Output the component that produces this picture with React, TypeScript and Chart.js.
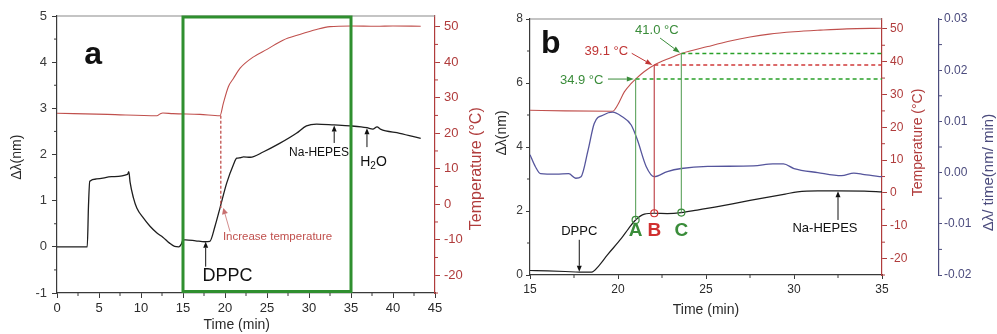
import React, { useEffect, useRef } from "react";
import { Chart, registerables } from "chart.js";
Chart.register(...registerables);

const FONT = '"Liberation Sans", Arial, Helvetica, sans-serif';
const DARK = "#2a2a2a";
const AXIS_DARK = "#3a3a3a";
const FRAME = "#8a8a8a";
const RED_LINE = "#c0504d";
const RED_AXIS = "#b03c3c";
const GREEN_BOX = "#2f8f2f";
const GREEN_TXT = "#3a8c3a";
const GREEN_LINE = "#6aaa6a";
const BLUE_LINE = "#55559c";
const BLUE_AXIS = "#4b4b7d";

// ---------------- Panel a data ----------------
const aTime = [0, 3.6, 3.75, 3.9, 4.7, 6.5, 8.4, 8.55, 8.7, 9.1, 9.5, 10.3, 11.1, 11.9, 12.6, 13.4, 14.0, 14.5, 14.8, 15.0, 15.3, 16.5, 17.6, 18.2, 18.8, 19.4, 20.2, 21.0, 21.4, 21.8, 22.2, 23.0, 24.6, 26.5, 28.5, 29.7, 30.9, 33.0, 34.9, 36.2, 36.9, 37.6, 38.1, 38.5, 40.8, 43.3];
const aShift = [0, 0, 0.9, 1.42, 1.47, 1.52, 1.57, 1.63, 1.4, 1.06, 0.84, 0.62, 0.44, 0.3, 0.21, 0.08, 0.01, 0, 0.06, 0.15, 0.15, 0.13, 0.11, 0.12, 0.44, 0.84, 1.38, 1.78, 1.92, 1.93, 1.95, 1.94, 2.06, 2.24, 2.46, 2.62, 2.66, 2.64, 2.62, 2.6, 2.58, 2.55, 2.6, 2.55, 2.46, 2.35];
const aTempTime = [0, 6, 11.9, 12.3, 12.6, 13.8, 17, 19.4, 19.8, 20.4, 21.0, 21.8, 23.4, 25.0, 26.9, 28.9, 30.9, 32.5, 35, 38, 40, 43.3];
const aTemp = [25.6, 25.3, 24.9, 25.5, 25.7, 25.5, 25.3, 24.9, 28.4, 33.1, 35.4, 38.3, 41.5, 43.6, 46.2, 47.8, 49.2, 50.0, 50.2, 50.1, 50.2, 50.1];
const aXTicks = [0, 5, 10, 15, 20, 25, 30, 35, 40, 45];
const aYTicks = [-1, 0, 1, 2, 3, 4, 5];
const aTempTicks = [-20, -10, 0, 10, 20, 30, 40, 50];
const aBox = [15, 35];
const aHeatTime = 19.5;
const aHeatTemp = 24.9;
const aHeatShift = 0.84;

// ---------------- Panel b data ----------------
const bTime = [15, 16, 17, 17.8, 18.5, 18.9, 19.4, 20.2, 20.6, 21.0, 21.5, 22.06, 22.8, 23.6, 24.5, 25.5, 26.5, 27.5, 28.7, 29.5, 30.2, 31.35, 32.5, 34, 35];
const bShift = [0.14, 0.13, 0.11, 0.09, 0.09, 0.28, 0.63, 1.15, 1.45, 1.72, 1.9, 1.93, 1.92, 1.95, 2.03, 2.12, 2.22, 2.33, 2.45, 2.53, 2.6, 2.63, 2.63, 2.62, 2.6];
const bTempTime = [15, 17, 19.7, 19.98, 20.36, 20.74, 21.0, 21.5, 22.06, 23.0, 23.6, 25.1, 26.3, 27.5, 28.6, 30, 31.5, 33, 35];
const bTemp = [25.2, 25.0, 24.9, 26.8, 30.8, 33.3, 34.7, 37.0, 39.0, 41.2, 42.5, 44.6, 46.2, 47.5, 48.4, 49.1, 49.6, 50.0, 50.2];
const bRateTime = [15, 15.3, 15.6, 16.5, 17.2, 17.6, 17.9, 18.3, 18.65, 19.2, 19.7, 20.2, 20.75, 21.1, 21.6, 22.06, 22.8, 23.6, 25.1, 27.7, 28.8, 29.4, 30.0, 31.35, 32.7, 33.4, 34, 35];
const bRate = [0.0035, 0.0012, -0.0002, -0.0003, -0.0002, -0.0011, -0.0008, 0.0044, 0.0096, 0.0113, 0.0118, 0.011, 0.0093, 0.0064, 0.0012, -0.0008, 0.0002, 0.0008, 0.0012, 0.0013, 0.0017, 0.0017, 0.0008, 0.0, -0.0006, -0.0001, -0.0004, -0.0008];
const bXTicks = [15, 20, 25, 30, 35];
const bYTicks = [0, 2, 4, 6, 8];
const bTempTicks = [-20, -10, 0, 10, 20, 30, 40, 50];
const bRateTicks = [-0.02, -0.01, 0, 0.01, 0.02, 0.03];
const bRateLabels = ["-0.02", "-0.01", "0.00", "0.01", "0.02", "0.03"];
const bPointTime = [21.0, 22.06, 23.6];
const bPointTemp = [34.7, 39.0, 42.5];
const bPointShift = [1.72, 1.93, 1.95];
const bPointLetters = ["A", "B", "C"];
const bTempLabels = ["34.9 °C", "39.1 °C", "41.0 °C"];

const zip = (xs: number[], ys: number[]) => xs.map((x, i) => ({ x, y: ys[i] }));
const steps = (a: number, b: number, s: number) => {
  const out: number[] = [];
  for (let v = a; v <= b + 1e-9; v += s) out.push(+v.toFixed(6));
  return out;
};

function line(ctx: any, x1: number, y1: number, x2: number, y2: number, color: string, lw = 1, dash: number[] = []) {
  ctx.save();
  ctx.strokeStyle = color;
  ctx.lineWidth = lw;
  ctx.setLineDash(dash);
  ctx.beginPath();
  ctx.moveTo(x1, y1);
  ctx.lineTo(x2, y2);
  ctx.stroke();
  ctx.restore();
}
function arrow(ctx: any, x1: number, y1: number, x2: number, y2: number, color: string, lw = 1, head = 7, hw = 3) {
  const ang = Math.atan2(y2 - y1, x2 - x1);
  const bx = x2 - head * Math.cos(ang);
  const by = y2 - head * Math.sin(ang);
  line(ctx, x1, y1, bx, by, color, lw);
  ctx.save();
  ctx.fillStyle = color;
  ctx.beginPath();
  ctx.moveTo(x2, y2);
  ctx.lineTo(bx + hw * Math.sin(ang), by - hw * Math.cos(ang));
  ctx.lineTo(bx - hw * Math.sin(ang), by + hw * Math.cos(ang));
  ctx.closePath();
  ctx.fill();
  ctx.restore();
}
function text(ctx: any, s: string, x: number, y: number, font: string, color: string, align = "center", baseline = "middle", rot = 0) {
  ctx.save();
  ctx.translate(x, y);
  if (rot) ctx.rotate(rot);
  ctx.font = font;
  ctx.fillStyle = color;
  ctx.textAlign = align;
  ctx.textBaseline = baseline;
  ctx.fillText(s, 0, 0);
  ctx.restore();
}
function minor(ctx: any, scale: any, values: number[], side: string, edge: number, len: number, color: string) {
  for (const v of values) {
    const p = scale.getPixelForValue(v);
    if (side === "bottom") line(ctx, p, edge, p, edge + len, color, 1);
    else if (side === "left") line(ctx, edge, p, edge - len, p, color, 1);
    else line(ctx, edge, p, edge + len, p, color, 1);
  }
}

function yAxis(pos: string, min: number, max: number, ticks: number[], labels: string[] | null, color: string, width: number, tickLen: number, pad: number, size: number, weight = 0) {
  return {
    type: "linear",
    position: pos,
    min,
    max,
    weight,
    afterBuildTicks: (s: any) => { s.ticks = ticks.map((v) => ({ value: v })); },
    afterFit: (s: any) => { s.width = width; },
    ticks: {
      color,
      font: { family: FONT, size },
      padding: pad,
      autoSkip: false,
      callback: (v: any, i: number) => (labels ? labels[i] : String(v)),
    },
    grid: { drawOnChartArea: false, drawTicks: true, tickLength: tickLen, color, tickColor: color, lineWidth: 1 },
    border: { display: true, color, width: 1.2 },
    title: { display: false },
  };
}
function xAxis(min: number, max: number, ticks: number[], height: number, tickLen: number, size: number) {
  return {
    type: "linear",
    position: "bottom",
    min,
    max,
    afterBuildTicks: (s: any) => { s.ticks = ticks.map((v) => ({ value: v })); },
    afterFit: (s: any) => { s.height = height; },
    ticks: { color: DARK, font: { family: FONT, size }, padding: 3, autoSkip: false, maxRotation: 0 },
    grid: { drawOnChartArea: false, drawTicks: true, tickLength: tickLen, color: AXIS_DARK, lineWidth: 1 },
    border: { display: true, color: AXIS_DARK, width: 1.2 },
    title: { display: false },
  };
}

const plugA = {
  id: "plugA",
  afterDraw(chart: any) {
    const { ctx, chartArea: ca } = chart;
    const x = chart.scales.x, y = chart.scales.y, yT = chart.scales.yT;
    line(ctx, ca.left, ca.top, ca.right, ca.top, FRAME, 1.2);
    minor(ctx, x, steps(2.5, 42.5, 5), "bottom", ca.bottom, 3, AXIS_DARK);
    minor(ctx, y, steps(-0.5, 4.5, 1), "left", ca.left, 3, AXIS_DARK);
    minor(ctx, yT, steps(-25, 45, 10), "right", ca.right, 3, RED_AXIS);
    // green box
    const gx1 = x.getPixelForValue(aBox[0]);
    const gx2 = x.getPixelForValue(aBox[1]);
    const gy1 = y.getPixelForValue(aYTicks[aYTicks.length - 1]) + 1;
    const gy2 = y.getPixelForValue(aYTicks[0]) - 1.5;
    ctx.save();
    ctx.strokeStyle = GREEN_BOX;
    ctx.lineWidth = 3;
    ctx.strokeRect(gx1, gy1, gx2 - gx1, gy2 - gy1);
    ctx.restore();
    // heating dashed line
    const hx = x.getPixelForValue(aHeatTime);
    line(ctx, hx, yT.getPixelForValue(aHeatTemp), hx, y.getPixelForValue(aHeatShift), RED_LINE, 1.3, [3, 2]);
    arrow(ctx, x.getPixelForValue(20.6), y.getPixelForValue(0.33), x.getPixelForValue(19.8), y.getPixelForValue(0.84), "#c87070", 0.8, 6, 3);
    text(ctx, "Increase temperature", x.getPixelForValue(19.75), y.getPixelForValue(0.22), `11.5px ${FONT}`, RED_LINE, "left");
    // DPPC
    arrow(ctx, x.getPixelForValue(17.7), y.getPixelForValue(-0.43), x.getPixelForValue(17.7), y.getPixelForValue(0.11), "#111", 1, 6, 2.5);
    text(ctx, "DPPC", x.getPixelForValue(20.3), y.getPixelForValue(-0.64), `18px ${FONT}`, "#111");
    // Na-HEPES
    arrow(ctx, x.getPixelForValue(33.0), y.getPixelForValue(2.25), x.getPixelForValue(33.0), y.getPixelForValue(2.63), "#111", 1, 6, 2.5);
    text(ctx, "Na-HEPES", x.getPixelForValue(31.2), y.getPixelForValue(2.03), `12px ${FONT}`, "#111");
    // H2O
    arrow(ctx, x.getPixelForValue(36.9), y.getPixelForValue(2.16), x.getPixelForValue(36.9), y.getPixelForValue(2.57), "#111", 1, 6, 2.5);
    const hx0 = x.getPixelForValue(36.1), hy0 = y.getPixelForValue(1.84);
    ctx.save();
    ctx.font = `14px ${FONT}`;
    const wH = ctx.measureText("H").width;
    ctx.font = `10px ${FONT}`;
    const w2 = ctx.measureText("2").width;
    ctx.restore();
    text(ctx, "H", hx0, hy0, `14px ${FONT}`, "#111", "left");
    text(ctx, "2", hx0 + wH, hy0 + 4, `10px ${FONT}`, "#111", "left");
    text(ctx, "O", hx0 + wH + w2, hy0, `14px ${FONT}`, "#111", "left");
    // panel letter
    text(ctx, "a", x.getPixelForValue(4.3), y.getPixelForValue(3.97), `bold 32px ${FONT}`, "#111", "center", "alphabetic");
    // axis titles
    text(ctx, "Time (min)", x.getPixelForValue(21.4), 325, `14px ${FONT}`, DARK);
    text(ctx, "Δλ(nm)", 16.7, y.getPixelForValue(1.94), `14px ${FONT}`, DARK, "center", "middle", -Math.PI / 2);
    text(ctx, "Temperature (°C)", 477, yT.getPixelForValue(10), `16px ${FONT}`, RED_AXIS, "center", "middle", -Math.PI / 2);
  },
};

const plugB = {
  id: "plugB",
  afterDraw(chart: any) {
    const { ctx, chartArea: ca } = chart;
    const x = chart.scales.x, y = chart.scales.y, yT = chart.scales.yT, yR = chart.scales.yR;
    line(ctx, ca.left, ca.top, ca.right, ca.top, FRAME, 1.2);
    minor(ctx, x, steps(17.5, 32.5, 5), "bottom", ca.bottom, 3, AXIS_DARK);
    minor(ctx, y, steps(1, 7, 2), "left", ca.left, 3, AXIS_DARK);
    minor(ctx, yT, steps(-25, 45, 10), "right", ca.right, 3, RED_AXIS);
    minor(ctx, yR, steps(-0.015, 0.025, 0.01), "right", yR.left, 3, BLUE_AXIS);
    const right = x.getPixelForValue(bXTicks[bXTicks.length - 1]);
    const colors = [GREEN_LINE, "#c04a50", GREEN_LINE];
    const dashColors = ["#28a028", "#d03a3a", "#28a028"];
    const txtColors = [GREEN_TXT, "#d03030", GREEN_TXT];
    for (let i = 0; i < 3; i++) {
      const px = x.getPixelForValue(bPointTime[i]);
      const pyT = yT.getPixelForValue(bPointTemp[i]);
      const pyS = y.getPixelForValue(bPointShift[i]);
      line(ctx, px, pyT, right, pyT, dashColors[i], 1.4, [4, 3]);
      line(ctx, px, pyT, px, pyS, colors[i], 1.2);
      ctx.save();
      ctx.strokeStyle = txtColors[i];
      ctx.lineWidth = 1.2;
      ctx.beginPath();
      ctx.arc(px, pyS, 3.5, 0, Math.PI * 2);
      ctx.stroke();
      ctx.restore();
      text(ctx, bPointLetters[i], px, y.getPixelForValue(1.37), `bold 19px ${FONT}`, txtColors[i]);
    }
    // temperature labels
    text(ctx, bTempLabels[0], x.getPixelForValue(16.7), yT.getPixelForValue(34.4), `13px ${FONT}`, GREEN_TXT, "left");
    arrow(ctx, x.getPixelForValue(19.43), yT.getPixelForValue(34.7), x.getPixelForValue(20.9), yT.getPixelForValue(34.7), GREEN_TXT, 1, 7, 2.5);
    text(ctx, bTempLabels[1], x.getPixelForValue(18.1), yT.getPixelForValue(43.0), `13px ${FONT}`, "#c03535", "left");
    arrow(ctx, x.getPixelForValue(20.78), yT.getPixelForValue(42.55), x.getPixelForValue(21.95), yT.getPixelForValue(39.0), "#c03535", 1, 7, 2.5);
    text(ctx, bTempLabels[2], x.getPixelForValue(20.97), yT.getPixelForValue(49.65), `13px ${FONT}`, GREEN_TXT, "left");
    arrow(ctx, x.getPixelForValue(22.39), yT.getPixelForValue(47.2), x.getPixelForValue(23.52), yT.getPixelForValue(42.7), GREEN_TXT, 1, 7, 2.5);
    // DPPC
    arrow(ctx, x.getPixelForValue(17.8), y.getPixelForValue(1.1), x.getPixelForValue(17.8), y.getPixelForValue(0.1), "#111", 1, 6, 2.5);
    text(ctx, "DPPC", x.getPixelForValue(17.8), y.getPixelForValue(1.35), `13px ${FONT}`, "#111");
    // Na-HEPES
    arrow(ctx, x.getPixelForValue(32.5), y.getPixelForValue(1.72), x.getPixelForValue(32.5), y.getPixelForValue(2.62), "#111", 1, 6, 2.5);
    text(ctx, "Na-HEPES", x.getPixelForValue(31.76), y.getPixelForValue(1.44), `13px ${FONT}`, "#111");
    // letter
    text(ctx, "b", x.getPixelForValue(16.18), y.getPixelForValue(6.93), `bold 32px ${FONT}`, "#111", "center", "alphabetic");
    // titles
    text(ctx, "Time (min)", x.getPixelForValue(25.0), 310, `14px ${FONT}`, DARK);
    text(ctx, "Δλ(nm)", 12, y.getPixelForValue(4.44), `14px ${FONT}`, DARK, "center", "middle", -Math.PI / 2);
    text(ctx, "Temperature (°C)", 428, yT.getPixelForValue(15.4), `14px ${FONT}`, RED_AXIS, "center", "middle", -Math.PI / 2);
    text(ctx, "Δλ/ time(nm/ min)", 499, yR.getPixelForValue(0), `15px ${FONT}`, BLUE_AXIS, "center", "middle", -Math.PI / 2);
  },
};

const ds = (data: any[], color: string, axis: string, width: number) => ({
  data,
  borderColor: color,
  borderWidth: width,
  pointRadius: 0,
  fill: false,
  yAxisID: axis,
  cubicInterpolationMode: "monotone",
});

export default function App() {
  const refA = useRef<HTMLCanvasElement>(null);
  const refB = useRef<HTMLCanvasElement>(null);
  useEffect(() => {
    const common = {
      responsive: false,
      animation: false,
      devicePixelRatio: 1,
      plugins: { legend: { display: false }, tooltip: { enabled: false }, title: { display: false } },
      events: [],
    };
    const chartA = new Chart(refA.current as any, {
      type: "line",
      data: {
        datasets: [
          ds(zip(aTempTime, aTemp), RED_LINE, "yT", 1.1),
          ds(zip(aTime, aShift), "#1e1e1e", "y", 1.3),
        ],
      },
      options: {
        ...common,
        layout: { padding: { top: 16, left: 0, right: 0, bottom: 0 } },
        scales: {
          x: xAxis(0, 45, aXTicks, 41, 5, 13),
          y: yAxis("left", -1, 5, aYTicks, null, AXIS_DARK, 57, 5, 5, 13),
          yT: yAxis("right", -25, 53, aTempTicks, null, RED_AXIS, 62, 5, 4, 13),
        },
      } as any,
      plugins: [plugA],
    } as any);
    const chartB = new Chart(refB.current as any, {
      type: "line",
      data: {
        datasets: [
          ds(zip(bRateTime, bRate), BLUE_LINE, "yR", 1.3),
          ds(zip(bTempTime, bTemp), RED_LINE, "yT", 1.1),
          ds(zip(bTime, bShift), "#1e1e1e", "y", 1.2),
        ],
      },
      options: {
        ...common,
        layout: { padding: { top: 19, left: 0, right: 0, bottom: 0 } },
        scales: {
          x: xAxis(15, 35, bXTicks, 59, 4, 12),
          y: yAxis("left", 0, 8, bYTicks, null, AXIS_DARK, 40, 4, 3, 12),
          yT: yAxis("right", -25, 53, bTempTicks, null, RED_AXIS, 57, 5, 3, 12, 0),
          yR: yAxis("right", -0.02, 0.03, bRateTicks, bRateLabels, BLUE_AXIS, 58, 3, 2, 12, 1),
        },
      } as any,
      plugins: [plugB],
    } as any);
    return () => {
      chartA.destroy();
      chartB.destroy();
    };
  }, []);
  return (
    <div style={{ position: "absolute", left: 0, top: 0, width: 997, height: 334, background: "#fff", overflow: "hidden" }}>
      <canvas ref={refA} width={497} height={334} style={{ position: "absolute", left: 0, top: 0, width: 497, height: 334 }} />
      <canvas ref={refB} width={507} height={334} style={{ position: "absolute", left: 490, top: 0, width: 507, height: 334 }} />
    </div>
  );
}
